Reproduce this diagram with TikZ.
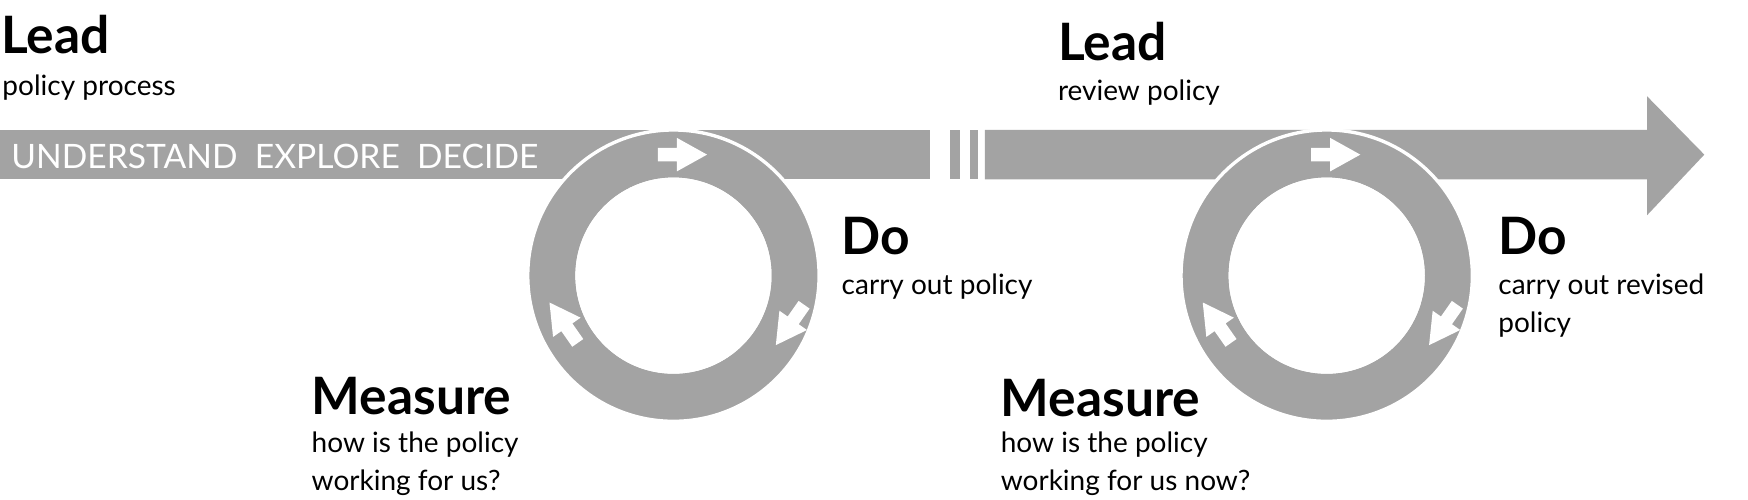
\documentclass[tikz,border=0pt]{standalone}
\usepackage{fontspec}
\setmainfont{Lato}
\begin{document}
\begin{tikzpicture}[x=1pt,y=-1pt,
  ttl/.style={anchor=base west,inner sep=0,font=\fontsize{46}{46}\selectfont\bfseries},
  sub/.style={anchor=base west,inner sep=0,font=\fontsize{25}{33}\selectfont},
  ring/.style={fill=gr,draw=white,line width=3pt,even odd rule}]
\definecolor{gr}{HTML}{A3A3A3}
\useasboundingbox (0,0) rectangle (1560,446);
% bands
\fill[gr] (0,116) rectangle (830,160);
\fill[gr] (848,116) rectangle (857,160);
\fill[gr] (866,116) rectangle (873,160);
\fill[gr] (879,116) -- (1470,116) -- (1470,86) -- (1521,138) -- (1470,192) -- (1470,160) -- (879,160) -- cycle;
% rings
\foreach \n/\cx in {a/601,b/1184}{
  \coordinate (c\n) at (\cx,246);
  \path[ring] (c\n) circle[radius=130] (c\n) circle[radius=86];
  \draw[white,line width=3pt] (c\n) circle[radius=86];
  \foreach \p/\r in {{(\cx+8,138)}/0,{(\cx+104,290)}/-125,{(\cx-98,288)}/125}{
    \fill[white,shift={\p},rotate=\r,y=1pt] (-22,-6) -- (-5,-6) -- (-5,-15) -- (22,0) -- (-5,15) -- (-5,6) -- (-22,6) -- cycle;
  }
}
\node[anchor=base west,inner sep=0,text=white,font=\fontsize{30}{30}\selectfont] (ued) at (10,150) {UNDERSTAND\ \ EXPLORE\ \ DECIDE};
\node[ttl] (l1) at (1,48) {Lead};
\node[sub] (l1s) at (2,85) {policy process};
\node[ttl] (l2) at (944,54) {Lead};
\node[sub] (l2s) at (944,90) {review policy};
\node[ttl] (d1) at (751,227) {Do};
\node[sub] (d1s) at (751,263) {carry out policy};
\node[ttl] (m1) at (278,370) {Measure};
\node[sub] (m1s) at (278,404) {how is the policy};
\node[sub] (m1t) at (278,438) {working for us?};
\node[ttl] (d2) at (1337,227) {Do};
\node[sub] (d2s) at (1337,263) {carry out revised};
\node[sub] (d2t) at (1337,297) {policy};
\node[ttl] (m2) at (893,372) {Measure};
\node[sub] (m2s) at (893,404) {how is the policy};
\node[sub] (m2t) at (893,438) {working for us now?};
\end{tikzpicture}
\end{document}
